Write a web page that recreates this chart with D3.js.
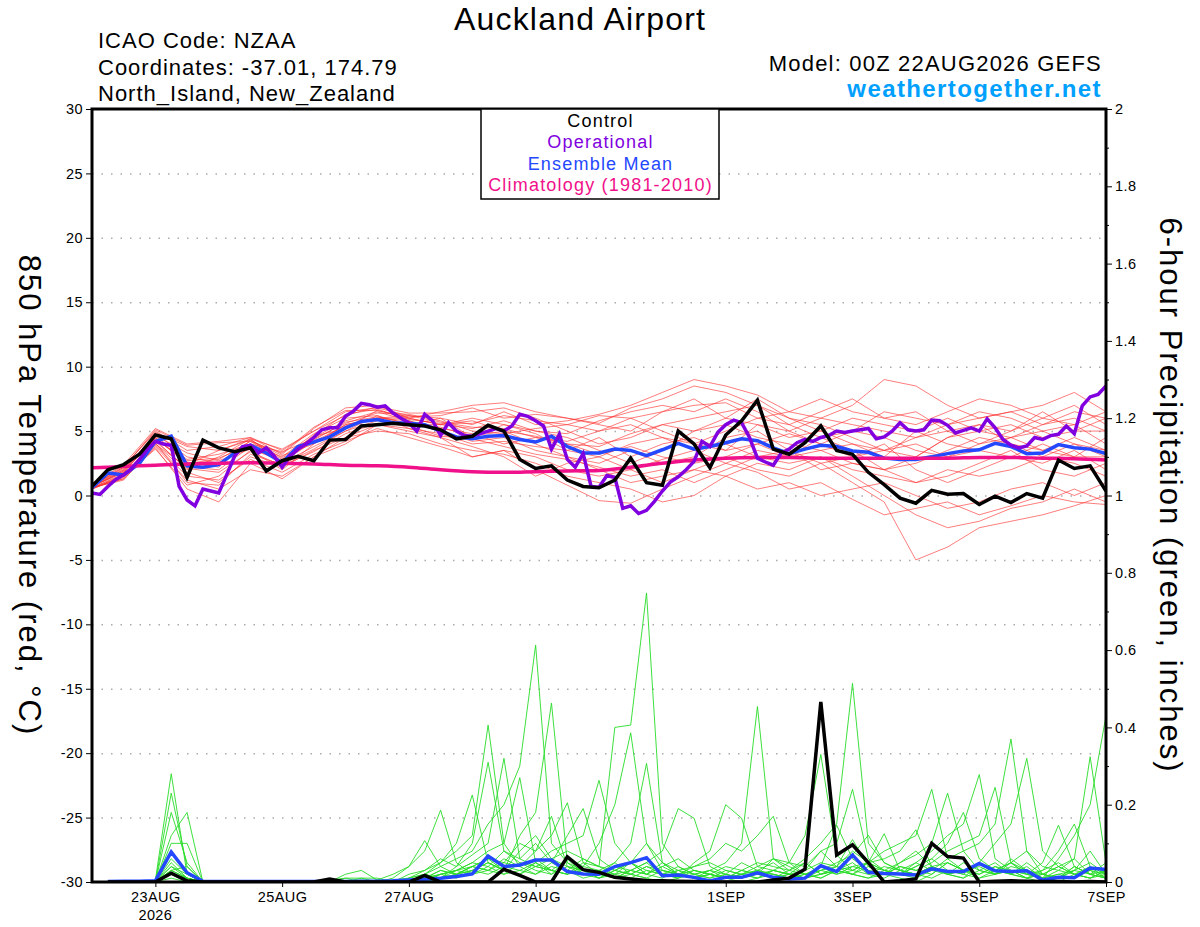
<!DOCTYPE html>
<html>
<head>
<meta charset="utf-8">
<script src="https://cdn.jsdelivr.net/npm/d3@7"></script>
<style>
body { margin: 0; background: #fff; }
svg text { font-family: "Liberation Sans", Arial, Helvetica, sans-serif; }
</style>
</head>
<body>
<div id="chart"></div>
<script>
// x tick labels (hours after 00Z 22AUG2026)
var tickDays = ["23AUG", "25AUG", "27AUG", "29AUG", "1SEP", "3SEP", "5SEP", "7SEP"];
var tickHours = [24, 72, 120, 168, 240, 288, 336, 384];

// 850 hPa temperature, 6-hourly from 0h
var controlT = [0.72,2.0,2.4,3.2,4.7,4.4,1.4,4.3,3.7,3.4,
  3.7,1.9,2.7,3.05,2.7,4.3,4.35,5.4,5.5,5.6,
  5.5,5.4,5.1,4.4,4.6,5.45,5.0,2.8,2.1,2.3,
  1.2,0.7,0.6,1.2,2.9,1.0,0.8,5.0,4.0,2.15,
  4.7,5.8,7.4,3.6,3.2,4.1,5.4,3.5,3.2,1.8,
  0.85,-0.2,-0.6,0.4,0.1,0.15,-0.7,-0.05,-0.55,0.15,
  -0.2,2.75,2.1,2.3,0.35];

// operational run, 3-hourly from 0h
var operT = [0.2,0.08,0.7,1.25,1.6,2.1,2.8,3.6,4.2,4.0,
  3.9,0.7,-0.35,-0.8,0.5,0.35,0.2,1.6,3.05,3.8,
  3.9,3.3,3.7,3.05,2.2,3.05,3.6,4.0,4.5,5.1,
  5.25,5.25,6.15,6.55,7.15,7.05,6.85,6.95,6.4,6.0,
  5.65,5.0,6.3,5.8,4.65,5.65,5.0,4.65,4.6,4.8,
  5.0,5.2,5.0,5.4,6.3,6.15,5.8,5.4,3.6,4.75,
  2.8,2.2,3.25,
  0.7,0.65,1.55,1.4,-1.0,-0.8,-1.4,-1.15,-0.45,0.35,
  1.05,1.45,2.0,2.65,4.2,3.8,4.9,5.5,5.85,5.65,
  4.5,2.9,2.6,2.35,3.3,3.6,4.1,4.35,4.2,4.5,
  4.65,5.0,4.9,5.0,5.1,5.2,4.4,4.55,5.0,5.65,
  5.1,5.0,5.1,5.85,5.8,5.45,4.85,5.05,5.25,5.0,
  5.95,5.25,4.35,3.9,3.7,3.85,4.5,4.35,4.65,4.75,
  5.4,4.8,6.95,7.65,7.85,8.5];

// ensemble mean, 6-hourly from 0h
var meanT = [0.6,1.75,1.6,2.5,4.2,4.6,2.3,2.2,2.4,3.3,
  3.9,3.3,2.55,3.8,4.15,4.55,5.25,5.75,5.9,5.65,
  5.6,5.5,5.0,4.55,4.4,4.6,4.65,4.35,4.15,4.6,
  3.8,3.3,3.3,3.6,3.5,3.1,3.55,4.05,3.6,3.8,
  4.1,4.4,4.25,3.7,3.25,3.6,3.9,3.8,3.45,3.35,
  2.9,2.8,2.8,3.0,3.25,3.45,3.55,4.05,3.8,3.25,
  3.3,3.95,3.7,3.6,3.25];

// climatology 1981-2010, 12-hourly from 0h
var climT = [2.15,2.25,2.35,2.45,2.5,2.55,2.5,2.45,2.35,2.3,
  2.2,2.0,1.85,1.8,1.85,1.9,1.95,2.2,2.5,2.75,
  2.9,2.95,2.95,2.9,2.9,2.9,2.9,2.9,2.95,2.95,
  2.9,2.85,2.75];

// ensemble members, 12-hourly from 0h
var memberT = [
  [0.8,2.2,5.0,3.5,3.8,4.5,3.5,5.0,6.5,6.8,6.2,6.0,5.5,6.5,5.5,5.8,6.3,7.0,8.0,9.0,8.5,7.8,6.5,6.0,5.5,5.0,4.5,5.5,6.0,6.5,5.5,6.0,5.0],
  [0.6,1.3,3.8,1.2,0.5,2.0,1.5,3.0,4.0,5.5,5.0,4.5,3.0,3.5,2.0,0.8,-0.4,-0.6,0.5,1.5,2.5,1.8,0.5,1.0,-0.3,-1.5,-1.0,-0.5,-1.5,-0.8,0.0,-0.5,-0.7],
  [0.7,1.8,4.5,2.5,2.8,4.2,2.8,4.5,5.8,6.5,5.8,5.2,4.8,4.0,4.5,4.0,3.8,4.8,5.5,5.0,6.0,7.5,6.0,5.5,4.5,3.5,4.0,3.0,3.5,4.5,5.0,4.0,3.5],
  [0.5,1.5,3.6,0.8,1.5,3.5,2.0,4.0,5.5,6.0,6.0,5.5,5.8,5.0,4.0,3.0,2.5,3.5,2.5,3.0,4.5,5.0,3.5,2.5,3.0,4.0,2.0,1.0,2.0,3.0,2.5,3.5,2.0],
  [0.9,2.4,5.2,4.0,4.2,4.5,3.2,5.2,6.8,7.0,6.0,6.5,7.0,7.2,6.5,6.0,5.5,5.0,6.5,7.5,6.0,5.5,5.0,6.0,7.0,9.0,8.5,7.0,6.0,6.5,7.0,8.0,6.5],
  [0.6,1.2,4.0,1.8,1.0,3.0,2.2,3.5,4.5,5.0,4.8,4.0,3.5,3.2,2.5,1.5,1.0,0.5,-0.5,0.0,1.5,2.5,2.0,3.0,1.5,0.0,-1.5,-2.5,-2.0,-1.0,-0.5,0.5,-0.5],
  [0.7,1.9,4.8,3.0,2.5,4.0,3.0,4.8,6.0,6.2,5.5,5.5,6.0,5.5,5.0,4.5,3.5,2.5,3.5,5.0,5.5,4.5,4.0,3.5,2.5,2.0,3.0,4.5,5.0,5.5,4.5,5.0,6.0],
  [0.5,1.6,4.3,2.0,3.0,4.4,2.5,3.8,5.0,5.8,5.5,6.0,4.5,5.5,4.8,3.5,4.5,3.0,4.0,4.5,3.5,5.5,4.5,5.0,4.0,3.0,5.0,4.0,3.5,3.0,4.0,3.0,4.5],
  [0.6,1.7,4.0,2.2,2.0,3.8,2.6,4.2,5.4,6.0,5.8,5.0,4.2,4.5,3.5,3.0,2.0,1.0,1.5,2.0,3.0,2.0,1.5,2.5,1.0,-0.5,-5.0,-4.0,-2.5,-2.0,-1.5,-0.8,0.0],
  [0.8,2.0,4.6,2.8,3.2,4.0,3.4,4.4,5.6,6.4,6.3,5.8,5.0,4.8,5.2,5.5,5.0,6.0,5.0,4.0,5.0,6.0,5.5,4.5,5.0,6.5,6.0,5.5,6.5,6.0,5.0,5.5,4.0],
  [0.6,1.4,3.9,1.5,1.2,2.8,1.8,3.2,4.2,5.2,4.5,3.8,3.0,3.5,3.0,2.0,1.5,2.0,1.0,2.0,1.5,0.5,1.0,0.0,0.5,1.0,0.0,-1.0,-0.5,0.5,1.0,0.0,1.0],
  [0.7,2.0,4.4,2.6,2.2,4.3,2.9,4.6,5.2,6.6,6.0,5.5,5.2,5.8,5.0,4.8,5.8,6.5,7.0,6.5,7.5,6.5,5.0,4.0,5.0,4.5,3.5,3.0,4.0,5.0,6.0,7.0,5.5],
  [0.5,1.5,4.1,1.0,0.8,3.2,2.4,3.6,5.0,6.2,5.2,4.8,4.0,4.2,3.8,3.5,3.0,4.0,4.5,3.5,2.5,3.5,3.0,4.5,3.5,2.0,2.5,3.5,4.5,4.0,3.0,4.0,3.0],
  [0.9,2.3,4.9,3.8,3.5,4.4,3.6,5.0,6.2,6.9,6.4,6.4,6.5,6.8,6.0,5.0,4.0,4.5,5.5,6.0,6.5,7.0,6.0,5.0,6.0,5.5,5.0,6.0,5.0,4.5,5.5,6.5,6.0],
  [0.6,1.3,3.7,0.5,-0.5,2.5,1.3,3.0,4.5,5.5,5.2,4.5,3.8,3.0,1.5,2.5,3.0,2.0,2.8,3.5,4.0,3.0,2.5,3.0,2.0,1.5,1.0,2.0,1.5,2.0,3.0,2.5,1.5],
  [0.7,1.8,4.5,2.4,3.5,4.3,3.1,4.0,5.5,6.0,6.2,5.7,5.3,5.2,4.5,4.2,5.0,5.5,4.5,4.0,3.5,4.0,4.8,4.0,3.0,3.5,4.5,5.0,4.0,4.5,3.5,4.5,3.5],
  [0.8,2.1,4.7,3.3,2.7,3.6,2.7,4.7,6.3,6.7,5.9,5.6,5.6,6.2,5.8,5.5,6.2,6.0,6.5,7.0,7.2,6.0,6.5,7.5,6.5,6.0,6.5,5.0,5.5,5.0,6.5,5.0,5.0],
  [0.6,1.6,4.2,2.1,1.8,3.4,2.3,3.4,4.8,5.6,5.4,4.6,4.4,3.8,3.2,2.8,2.2,1.5,2.0,1.0,2.0,3.0,3.5,2.0,2.5,2.0,1.0,1.5,2.5,3.5,2.0,1.5,2.5],
  [0.7,1.9,4.4,2.7,2.9,3.9,2.6,4.3,5.7,6.1,5.6,5.3,4.6,5.0,4.6,4.0,3.2,3.8,3.0,2.5,3.0,4.0,3.0,3.5,4.0,3.5,3.0,4.5,5.5,4.0,3.5,3.0,3.0],
  [0.8,2.2,5.1,3.9,4.1,4.2,3.3,5.3,6.6,6.6,6.1,6.2,6.8,6.0,6.3,6.0,5.6,6.8,7.5,8.5,8.0,7.0,5.5,6.5,7.5,6.0,5.5,6.5,7.5,7.0,6.0,5.5,6.5]
];

// 6-hour precipitation (inches), 6-hourly from 6h
var controlP = [0,0,0,0,0.023,0.003,0,0,
  0,0,0,0,0,0,0.008,0,
  0,0,0,0,0.017,0,0,0,
  0,0.033,0.017,0,0,0.065,0.032,0.025,
  0.012,0.008,0.004,0.003,0.002,0.001,0,0,
  0,0,0.005,0.01,0.033,0.466,0.07,0.096,
  0.05,0,0.003,0.008,0.1,0.066,0.062,0,
  0.002,0.003,0.002,0.001,0.001,0,0.001,0];

var meanP = [0.001,0.002,0.002,0.003,0.078,0.024,0.002,0.001,
  0.001,0.001,0.001,0.001,0.001,0.001,0.001,0.001,
  0.002,0.002,0.003,0.005,0.007,0.01,0.014,0.021,
  0.067,0.04,0.044,0.057,0.057,0.027,0.021,0.02,
  0.04,0.05,0.063,0.016,0.018,0.012,0.003,0.012,
  0.012,0.024,0.012,0.008,0.01,0.042,0.027,0.07,
  0.025,0.022,0.021,0.018,0.034,0.027,0.027,0.048,
  0.029,0.027,0.029,0.005,0.012,0.011,0.036,0.032];

var memberP = [
  [0,0,0,0.005,0.28,0.02,0,0, 0,0,0,0,0,0,0,0, 0,0,0,0.01,0.03,0.05,0.08,0.12, 0.406,0.1,0.04,0.02,0.05,0.03,0.01,0.02,
   0.05,0.02,0.01,0,0.01,0.03,0.02,0.01, 0,0.01,0.02,0.01,0.03,0.05,0.04,0.11, 0.04,0.02,0.01,0,0.02,0.05,0.03,0.01, 0.02,0.06,0.03,0.01,0,0.02,0.04,0.01],
  [0,0,0,0,0.23,0.04,0,0, 0,0,0,0,0,0,0,0, 0,0,0,0,0.02,0.01,0.04,0.1, 0.31,0.08,0.05,0.03,0.02,0.06,0.04,0.03,
   0.02,0.05,0.1,0.03,0.02,0.01,0,0.02, 0.05,0.03,0.01,0.02,0.01,0.04,0.147,0.06, 0.03,0.02,0.05,0.08,0.04,0.02,0.01,0.03, 0.05,0.02,0.01,0,0.01,0.03,0.08,0.02],
  [0,0,0,0,0.18,0.05,0,0, 0,0,0,0,0,0,0,0, 0.01,0.01,0,0.02,0.03,0.06,0.04,0.07, 0.1,0.32,0.06,0.04,0.03,0.02,0.05,0.02,
   0.01,0.03,0.02,0.04,0.02,0.01,0.02,0.01, 0.03,0.02,0.06,0.04,0.02,0.03,0.05,0.07, 0.121,0.05,0.03,0.02,0.04,0.02,0.01,0.05, 0.03,0.02,0.05,0.02,0.01,0.04,0.02,0.01],
  [0,0,0,0,0.12,0.18,0,0, 0,0,0,0,0,0,0,0, 0,0,0,0,0.01,0.02,0.03,0.05, 0.08,0.1,0.27,0.05,0.03,0.02,0.03,0.01,
   0.03,0.05,0.02,0.01,0.03,0.02,0.01,0.03, 0.02,0.01,0.03,0.02,0.05,0.02,0.03,0.04, 0.05,0.125,0.03,0.02,0.01,0.03,0.02,0.01, 0.03,0.05,0.02,0.01,0.02,0.01,0.03,0.02],
  [0,0,0,0,0.1,0.1,0,0, 0,0,0,0,0,0,0,0.01, 0.01,0,0,0.01,0.02,0.04,0.06,0.08, 0.15,0.2,0.3,0.613,0.1,0.05,0.03,0.01,
   0.02,0.01,0.03,0.02,0.01,0.02,0.03,0.01, 0.02,0.03,0.01,0.02,0.03,0.08,0.04,0.03, 0.05,0.06,0.08,0.135,0.04,0.02,0.03,0.05, 0.02,0.03,0.01,0.02,0.04,0.06,0.02,0.01],
  [0,0,0,0,0.08,0.02,0,0, 0,0,0,0,0,0,0,0, 0,0,0,0,0,0.02,0.03,0.04, 0.06,0.03,0.12,0.18,0.463,0.05,0.02,0.03,
   0.01,0.02,0.01,0.03,0.02,0.01,0.02,0.01, 0.02,0.03,0.02,0.01,0.02,0.04,0.02,0.03, 0.05,0.08,0.1,0.12,0.24,0.06,0.03,0.02, 0.04,0.02,0.01,0.03,0.05,0.02,0.01,0.03],
  [0,0,0,0,0.05,0.01,0,0, 0,0,0,0,0,0,0,0, 0,0,0.005,0.01,0.02,0.05,0.1,0.225, 0.05,0.03,0.02,0.04,0.06,0.08,0.06,0.04,
   0.4,0.406,0.748,0.1,0.04,0.02,0.01,0.02, 0.01,0.03,0.02,0.01,0.02,0.03,0.04,0.02, 0.01,0.03,0.05,0.07,0.1,0.23,0.08,0.03, 0.02,0.03,0.01,0.02,0.04,0.02,0.01,0.02],
  [0,0,0,0,0.04,0.02,0,0, 0,0,0,0,0,0,0,0, 0,0,0.01,0.04,0.08,0.186,0.05,0.02, 0.03,0.05,0.04,0.06,0.03,0.02,0.04,0.1,
   0.2,0.386,0.1,0.05,0.02,0.03,0.02,0.01, 0.03,0.02,0.01,0.03,0.05,0.02,0.04,0.08, 0.05,0.03,0.02,0.04,0.06,0.1,0.18,0.06, 0.03,0.02,0.04,0.01,0.02,0.03,0.05,0.02],
  [0,0,0,0,0.03,0.01,0,0, 0,0,0,0,0,0,0,0, 0,0.005,0.02,0.04,0.107,0.04,0.02,0.03, 0.05,0.03,0.08,0.12,0.06,0.04,0.02,0.03,
   0.05,0.1,0.307,0.05,0.02,0.01,0.03,0.02, 0.01,0.03,0.05,0.02,0.01,0.02,0.03,0.05, 0.02,0.04,0.03,0.05,0.08,0.12,0.15,0.278, 0.06,0.03,0.02,0.01,0.03,0.02,0.01,0.03],
  [0,0,0,0,0.06,0.02,0,0, 0,0,0,0,0,0,0,0, 0,0,0,0.005,0.01,0.03,0.02,0.04, 0.03,0.06,0.04,0.08,0.12,0.205,0.05,0.04,
   0.02,0.03,0.05,0.08,0.19,0.165,0.04,0.02, 0.01,0.02,0.03,0.02,0.01,0.03,0.02,0.04, 0.03,0.02,0.04,0.03,0.05,0.08,0.1,0.12, 0.245,0.05,0.03,0.02,0.01,0.04,0.02,0.01],
  [0,0,0,0,0.04,0.01,0,0, 0,0,0,0,0,0,0,0, 0,0,0,0,0.01,0.02,0.03,0.05, 0.04,0.08,0.06,0.1,0.05,0.12,0.19,0.06,
   0.03,0.02,0.04,0.02,0.01,0.05,0.08,0.2, 0.165,0.04,0.03,0.02,0.01,0.02,0.03,0.02, 0.04,0.03,0.02,0.05,0.03,0.06,0.08,0.1, 0.15,0.37,0.08,0.02,0.01,0.03,0.02,0.05],
  [0,0,0,0,0.02,0.01,0,0, 0,0,0,0,0,0,0,0, 0.005,0,0,0,0,0.01,0.02,0.03, 0.05,0.03,0.02,0.05,0.08,0.1,0.12,0.263,
   0.1,0.05,0.03,0.02,0.04,0.02,0.03,0.05, 0.1,0.454,0.06,0.03,0.02,0.01,0.03,0.02, 0.05,0.03,0.02,0.04,0.06,0.03,0.02,0.05, 0.1,0.15,0.32,0.08,0.04,0.02,0.03,0.01],
  [0,0,0,0,0.03,0.04,0,0, 0,0,0,0,0,0,0,0, 0,0,0,0,0.005,0.01,0.02,0.04, 0.06,0.05,0.1,0.08,0.17,0.04,0.03,0.02,
   0.04,0.03,0.02,0.05,0.03,0.04,0.06,0.1, 0.08,0.12,0.17,0.05,0.02,0.01,0.03,0.02, 0.01,0.02,0.04,0.03,0.02,0.05,0.03,0.02, 0.04,0.03,0.02,0.05,0.147,0.04,0.02,0.03],
  [0,0,0,0,0.02,0,0,0, 0,0,0,0,0,0,0,0.02, 0.03,0.005,0,0,0.01,0.03,0.02,0.04, 0.03,0.02,0.05,0.04,0.03,0.06,0.02,0.01,
   0.03,0.02,0.04,0.03,0.02,0.04,0.05,0.03, 0.02,0.04,0.06,0.05,0.12,0.33,0.07,0.03, 0.02,0.01,0.03,0.02,0.04,0.02,0.03,0.05, 0.03,0.05,0.02,0.03,0.08,0.15,0.04,0.02],
  [0,0,0,0,0.01,0,0,0, 0,0,0,0,0,0,0.005,0.01, 0,0,0,0,0,0.01,0.03,0.02, 0.04,0.02,0.03,0.05,0.02,0.04,0.03,0.02,
   0.01,0.03,0.05,0.02,0.03,0.01,0.02,0.04, 0.03,0.05,0.04,0.03,0.06,0.1,0.15,0.514, 0.1,0.05,0.03,0.02,0.04,0.05,0.03,0.04, 0.02,0.05,0.08,0.04,0.03,0.06,0.324,0.05],
  [0,0,0,0,0.03,0.01,0,0, 0,0,0,0,0,0,0,0, 0,0,0,0,0,0.02,0.01,0.03, 0.02,0.04,0.03,0.02,0.04,0.03,0.06,0.04,
   0.03,0.05,0.02,0.04,0.06,0.03,0.02,0.01, 0.02,0.01,0.03,0.05,0.04,0.08,0.1,0.24, 0.06,0.03,0.02,0.01,0.03,0.02,0.05,0.03, 0.02,0.04,0.03,0.01,0.06,0.12,0.2,0.43]
];

var legendItems = ["Control", "Operational", "Ensemble Mean", "Climatology (1981-2010)"];
var legendColors = ["#000000", "#8000e0", "#2448ff", "#f0108a"];

var margin = {top: 109, right: 94, bottom: 45, left: 92},
    width = 1200 - margin.left - margin.right,
    height = 927 - margin.top - margin.bottom;

var svg = d3.select("#chart")
  .append("svg")
    .attr("width", 1200)
    .attr("height", 927);

var g = svg.append("g")
    .attr("transform", "translate(" + margin.left + "," + margin.top + ")");

var t0 = Date.UTC(2026, 7, 22, 0);
function hr(h) { return new Date(t0 + h * 3600000); }

var x = d3.scaleUtc().domain([hr(0), hr(384)]).range([0, width]);
var yT = d3.scaleLinear().domain([-30, 30]).range([height, 0]);
var yP = d3.scaleLinear().domain([0, 2]).range([height, 0]);

g.append("clipPath").attr("id", "clip")
  .append("rect").attr("width", width).attr("height", height);

// dotted grid
var grid = g.append("g")
  .call(d3.axisLeft(yT).tickValues(d3.range(-25, 30, 5)).tickSize(-width).tickFormat(""));
grid.select(".domain").remove();
grid.selectAll("line")
  .attr("stroke", "#aaa")
  .attr("stroke-width", 1.5)
  .attr("stroke-dasharray", "1.5,8");

var plot = g.append("g").attr("clip-path", "url(#clip)");

function tLine(step, start) {
  return d3.line()
    .x(function(d, i) { return x(hr(start + i * step)); })
    .y(function(d) { return yT(d); });
}
function pLine(step, start) {
  return d3.line()
    .x(function(d, i) { return x(hr(start + i * step)); })
    .y(function(d) { return yP(d); });
}

plot.selectAll(".pm").data(memberP).enter().append("path")
  .attr("fill", "none")
  .attr("stroke", "#28dd28")
  .attr("stroke-width", 0.9)
  .attr("d", pLine(6, 6));

plot.selectAll(".tm").data(memberT).enter().append("path")
  .attr("fill", "none")
  .attr("stroke", "#ff3030")
  .attr("stroke-opacity", 0.7)
  .attr("stroke-width", 0.9)
  .attr("d", tLine(12, 0));

plot.append("path").datum(meanP)
  .attr("fill", "none").attr("stroke", legendColors[2]).attr("stroke-width", 3.5)
  .attr("d", pLine(6, 6));

plot.append("path").datum(controlP)
  .attr("fill", "none").attr("stroke", "#000").attr("stroke-width", 3.5)
  .attr("d", pLine(6, 6));

plot.append("path").datum(meanT)
  .attr("fill", "none").attr("stroke", legendColors[2]).attr("stroke-width", 3.5)
  .attr("d", tLine(6, 0));

plot.append("path").datum(climT)
  .attr("fill", "none").attr("stroke", legendColors[3]).attr("stroke-width", 3.5)
  .attr("d", tLine(12, 0).curve(d3.curveMonotoneX));

plot.append("path").datum(operT)
  .attr("fill", "none").attr("stroke", legendColors[1]).attr("stroke-width", 3.5)
  .attr("d", tLine(3, 0));

plot.append("path").datum(controlT)
  .attr("fill", "none").attr("stroke", "#000").attr("stroke-width", 3.5)
  .attr("d", tLine(6, 0));

// axes
var ax = g.append("g")
  .call(d3.axisLeft(yT).tickValues(d3.range(-30, 31, 5)).tickSize(6).tickPadding(3)
    .tickFormat(function(d) { return String(d); }));
ax.select(".domain").remove();
ax.selectAll("text").attr("font-size", 14.5).attr("letter-spacing", 0.4).attr("fill", "#000");

var ar = g.append("g").attr("transform", "translate(" + width + ",0)")
  .call(d3.axisRight(yP).tickValues(d3.range(0, 11).map(function(i) { return i * 0.2; }))
    .tickSize(6).tickPadding(3)
    .tickFormat(function(d) { return String(+d.toFixed(1)); }));
ar.select(".domain").remove();
ar.selectAll("text").attr("font-size", 14.5).attr("letter-spacing", 0.4).attr("fill", "#000");

var arm = g.append("g").attr("transform", "translate(" + width + ",0)")
  .call(d3.axisRight(yP).tickValues(d3.range(0, 10).map(function(i) { return i * 0.2 + 0.1; }))
    .tickSize(3).tickFormat(""));
arm.select(".domain").remove();

var ab = g.append("g").attr("transform", "translate(0," + height + ")")
  .call(d3.axisBottom(x).tickValues(tickHours.map(hr)).tickSize(5).tickPadding(5)
    .tickFormat(function(d, i) { return tickDays[i]; }));
ab.select(".domain").remove();
ab.selectAll("text").attr("font-size", 14.5).attr("letter-spacing", 0.4).attr("fill", "#000");

g.append("text")
  .attr("x", x(hr(24)))
  .attr("y", height + 38)
  .attr("text-anchor", "middle")
  .attr("font-size", 14.5)
  .attr("letter-spacing", 0.4)
  .text("2026");

// frame
g.append("rect")
  .attr("width", width).attr("height", height)
  .attr("fill", "none").attr("stroke", "#000").attr("stroke-width", 3);

// legend
var lg = g.append("g").attr("transform", "translate(" + (width / 2 - 119 + 1) + ",0)");
lg.append("rect")
  .attr("width", 238).attr("height", 90)
  .attr("fill", "#fff").attr("stroke", "#000").attr("stroke-width", 1.5);
lg.selectAll(".li").data(legendItems).enter().append("text")
  .attr("x", 119.5)
  .attr("y", function(d, i) { return 18 + i * 21.3; })
  .attr("text-anchor", "middle")
  .attr("font-size", 18)
  .attr("letter-spacing", 1.2)
  .attr("fill", function(d, i) { return legendColors[i]; })
  .text(function(d) { return d; });

// titles
svg.append("text").attr("x", 580).attr("y", 30).attr("text-anchor", "middle")
  .attr("font-size", 32).attr("letter-spacing", 1.2).text("Auckland Airport");
var info = ["ICAO Code: NZAA", "Coordinates: -37.01, 174.79", "North_Island, New_Zealand"];
svg.selectAll(".info").data(info).enter().append("text")
  .attr("x", 98)
  .attr("y", function(d, i) { return 48 + i * 26.5; })
  .attr("font-size", 22)
  .attr("letter-spacing", 1)
  .text(function(d) { return d; });
svg.append("text").attr("x", 1102).attr("y", 71).attr("text-anchor", "end")
  .attr("font-size", 22).attr("letter-spacing", 1.2).text("Model: 00Z 22AUG2026 GEFS");
svg.append("text").attr("x", 1102).attr("y", 97).attr("text-anchor", "end")
  .attr("font-size", 24).attr("letter-spacing", 1.4).attr("font-weight", "bold").attr("fill", "#00a0ff")
  .text("weathertogether.net");

svg.append("text")
  .attr("transform", "translate(19," + (margin.top + height / 2) + ") rotate(90)")
  .attr("text-anchor", "middle")
  .attr("font-size", 31)
  .attr("letter-spacing", 2)
  .text("850 hPa Temperature (red, °C)");

svg.append("text")
  .attr("transform", "translate(1160," + (margin.top + height / 2) + ") rotate(90)")
  .attr("text-anchor", "middle")
  .attr("font-size", 31)
  .attr("letter-spacing", 2)
  .text("6-hour Precipitation (green, inches)");
</script>
</body>
</html>
